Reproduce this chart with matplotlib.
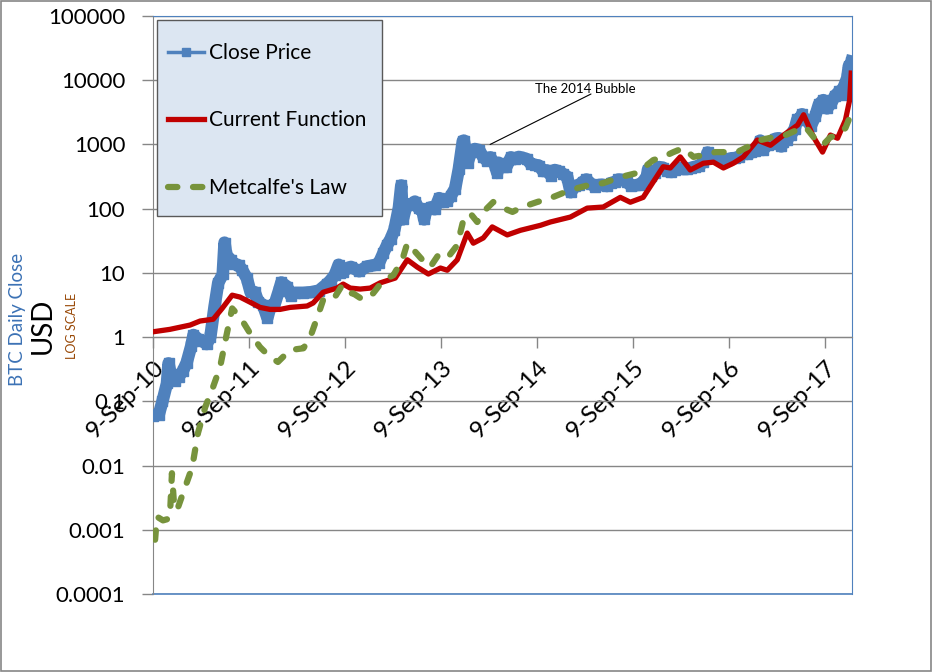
import matplotlib
matplotlib.use("Agg")
import matplotlib.pyplot as plt
import matplotlib.dates as mdates
from matplotlib.lines import Line2D
from matplotlib.patches import Rectangle
import pandas as pd

# BTC daily close (USD)
close_dates = [
    "2010-09-09", "2010-10-01", "2010-10-15", "2010-11-01", "2010-11-07", "2010-11-15",
    "2010-12-01", "2010-12-15", "2011-01-01", "2011-01-15", "2011-02-01", "2011-02-10",
    "2011-03-01", "2011-03-15", "2011-04-01", "2011-04-15", "2011-05-01", "2011-05-15",
    "2011-06-01", "2011-06-08", "2011-06-15", "2011-07-01", "2011-07-15", "2011-08-01",
    "2011-08-15", "2011-09-01", "2011-09-15", "2011-10-01", "2011-10-15", "2011-11-01",
    "2011-11-18", "2011-12-01", "2011-12-15", "2012-01-01", "2012-01-10", "2012-02-01",
    "2012-02-15", "2012-03-01", "2012-04-01", "2012-05-01", "2012-06-01", "2012-07-01",
    "2012-07-15", "2012-08-01", "2012-08-15", "2012-08-19", "2012-09-01", "2012-09-15",
    "2012-10-01", "2012-11-01", "2012-12-01", "2013-01-01", "2013-01-15", "2013-02-01",
    "2013-02-15", "2013-03-01", "2013-03-15", "2013-04-01", "2013-04-10", "2013-04-16",
    "2013-05-01", "2013-05-15", "2013-06-01", "2013-06-15", "2013-07-01", "2013-07-06",
    "2013-07-15", "2013-08-01", "2013-08-15", "2013-09-01", "2013-09-15", "2013-10-01",
    "2013-10-15", "2013-11-01", "2013-11-15", "2013-11-30", "2013-12-04", "2013-12-18",
    "2014-01-01", "2014-01-15", "2014-02-01", "2014-02-15", "2014-03-01", "2014-03-15",
    "2014-04-01", "2014-04-10", "2014-04-15", "2014-05-01", "2014-05-15", "2014-06-01",
    "2014-06-15", "2014-07-01", "2014-07-15", "2014-08-01", "2014-08-15", "2014-09-01",
    "2014-09-15", "2014-10-01", "2014-10-15", "2014-11-01", "2014-11-15", "2014-12-01",
    "2014-12-15", "2015-01-01", "2015-01-14", "2015-02-01", "2015-02-15", "2015-03-01",
    "2015-03-15", "2015-04-01", "2015-04-15", "2015-05-01", "2015-05-15", "2015-06-01",
    "2015-06-15", "2015-07-01", "2015-07-15", "2015-08-01", "2015-08-15", "2015-09-01",
    "2015-09-15", "2015-10-01", "2015-10-15", "2015-11-01", "2015-11-04", "2015-11-15",
    "2015-12-01", "2015-12-15", "2016-01-01", "2016-01-15", "2016-02-01", "2016-02-15",
    "2016-03-01", "2016-03-15", "2016-04-01", "2016-04-15", "2016-05-01", "2016-05-15",
    "2016-06-01", "2016-06-15", "2016-06-18", "2016-07-01", "2016-07-15", "2016-08-01",
    "2016-08-15", "2016-09-01", "2016-09-15", "2016-10-01", "2016-10-15", "2016-11-01",
    "2016-11-15", "2016-12-01", "2016-12-15", "2017-01-01", "2017-01-04", "2017-01-15",
    "2017-02-01", "2017-02-15", "2017-03-01", "2017-03-15", "2017-03-25", "2017-04-01",
    "2017-04-15", "2017-05-01", "2017-05-15", "2017-05-25", "2017-06-01", "2017-06-12",
    "2017-06-15", "2017-07-01", "2017-07-15", "2017-08-01", "2017-08-15", "2017-09-01",
    "2017-09-15", "2017-10-01", "2017-10-15", "2017-11-01", "2017-11-12", "2017-11-15",
    "2017-12-01", "2017-12-07", "2017-12-10", "2017-12-17",
]
close_price = [
    0.06, 0.062, 0.10, 0.19, 0.39, 0.27,
    0.21, 0.24, 0.30, 0.40, 0.72, 1.08,
    0.92, 0.87, 0.78, 1.0, 3.0, 7.0,
    9.5, 29.6, 19, 16, 13.8, 13.1,
    11, 8.2, 5.0, 5.0, 3.5, 3.2,
    2.0, 3.1, 3.2, 5.3, 7.1, 6.1,
    4.4, 4.9, 4.9, 5.0, 5.3, 6.7,
    7.6, 9.4, 13.4, 10, 10.2, 11.8,
    12.4, 10.6, 12.6, 13.3, 14.2, 20.4,
    27, 34, 47, 104, 230, 68,
    117, 114, 129, 101, 89, 68,
    98, 105, 98, 146, 127, 130,
    157, 206, 417, 1130, 1150, 520,
    770, 850, 810, 640, 560, 630,
    480, 360, 520, 450, 450, 630,
    590, 640, 620, 590, 500, 480,
    470, 385, 395, 325, 400, 380,
    350, 315, 180, 225, 235, 260,
    285, 245, 220, 235, 237, 225,
    250, 258, 285, 280, 260, 228,
    230, 237, 255, 325, 405, 320,
    360, 445, 434, 385, 372, 400,
    435, 415, 416, 430, 450, 455,
    535, 690, 750, 675, 665, 605,
    570, 572, 608, 615, 640, 730,
    710, 750, 780, 1000, 1150, 820,
    990, 1010, 1220, 1250, 930, 1090,
    1180, 1420, 1750, 2450, 2400, 2950,
    2450, 2430, 1930, 2730, 4200, 4900,
    3640, 4400, 5700, 6700, 5950, 7300,
    10900, 16700, 15000, 19500,
]

func_dates = [
    "2010-09-09", "2010-11-12", "2011-01-28", "2011-03-07", "2011-04-26", "2011-05-30",
    "2011-07-07", "2011-08-06", "2011-09-13", "2011-10-21", "2011-11-28", "2012-01-05",
    "2012-02-12", "2012-04-17", "2012-05-10", "2012-06-17", "2012-08-09", "2012-09-01",
    "2012-09-28", "2012-11-05", "2012-12-13", "2013-01-20", "2013-03-18", "2013-05-03",
    "2013-06-10", "2013-07-22", "2013-09-06", "2013-10-02", "2013-11-09", "2013-12-17",
    "2014-01-09", "2014-02-16", "2014-03-22", "2014-05-18", "2014-07-07", "2014-09-21",
    "2014-10-29", "2015-01-13", "2015-03-18", "2015-05-18", "2015-07-22", "2015-08-29",
    "2015-10-17", "2015-11-24", "2016-01-01", "2016-01-28", "2016-03-06", "2016-04-13",
    "2016-06-02", "2016-07-10", "2016-08-17", "2016-09-24", "2016-11-01", "2016-12-24",
    "2017-02-12", "2017-04-03", "2017-05-26", "2017-06-18", "2017-07-26", "2017-08-29",
    "2017-09-28", "2017-10-25", "2017-11-24", "2017-12-10", "2017-12-16",
]
func_value = [
    1.21, 1.32, 1.54, 1.78, 1.9, 2.8,
    4.5, 4.2, 3.5, 2.9, 2.7, 2.7,
    2.9, 3.05, 3.4, 5.0, 5.8, 6.7,
    5.8, 5.6, 5.8, 7.0, 8.3, 16,
    12.3, 9.6, 11.9, 11, 16, 41.7,
    29, 35, 52, 39, 46, 55,
    62, 74, 102, 106, 150, 126,
    150, 260, 450, 430, 640, 400,
    510, 530, 430, 510, 640, 1170,
    970, 1400, 2000, 2900, 1300, 760,
    1400, 1250, 2400, 4900, 12900,
]

metcalfe_dates = [
    "2010-09-17", "2010-09-24", "2010-10-17", "2010-11-12", "2010-11-20", "2010-11-28",
    "2010-12-09", "2011-01-01", "2011-02-05", "2011-02-27", "2011-03-26", "2011-04-26",
    "2011-05-22", "2011-06-14", "2011-07-07", "2011-08-06", "2011-09-13", "2011-10-21",
    "2011-11-28", "2011-12-28", "2012-02-12", "2012-04-03", "2012-04-29", "2012-05-26",
    "2012-06-17", "2012-07-25", "2012-08-28", "2012-09-28", "2012-10-09", "2012-11-16",
    "2012-12-24", "2013-02-01", "2013-03-11", "2013-04-14", "2013-05-03", "2013-05-22",
    "2013-06-29", "2013-07-29", "2013-08-29", "2013-10-02", "2013-11-09", "2013-12-02",
    "2013-12-28", "2014-01-24", "2014-02-23", "2014-03-26", "2014-05-03", "2014-06-07",
    "2014-07-14", "2014-09-09", "2014-10-29", "2015-01-13", "2015-03-22", "2015-05-18",
    "2015-07-22", "2015-09-24", "2015-11-24", "2016-01-01", "2016-02-09", "2016-03-18",
    "2016-04-25", "2016-06-02", "2016-07-18", "2016-09-02", "2016-10-09", "2016-11-16",
    "2017-01-05", "2017-02-23", "2017-04-10", "2017-05-26", "2017-06-25", "2017-07-26",
    "2017-08-29", "2017-09-28", "2017-10-25", "2017-11-24", "2017-12-16",
]
metcalfe_value = [
    0.0007, 0.0016, 0.0014, 0.0015, 0.0076, 0.0025,
    0.002, 0.0037, 0.0094, 0.032, 0.08, 0.17,
    0.34, 1.0, 2.8, 2.05, 1.15, 0.7,
    0.49, 0.41, 0.63, 0.67, 1.0, 2.05,
    3.8, 3.8, 6.4, 4.8, 4.8, 3.8,
    4.8, 7.7, 9.2, 16, 29, 24,
    16, 12.3, 19, 17, 27, 66,
    85, 62, 95, 127, 102, 89,
    106, 127, 146, 195, 232, 250,
    310, 360, 570, 640, 760, 880,
    640, 680, 760, 760, 760, 910,
    1170, 1300, 1400, 1690, 1880, 1300,
    970, 1300, 1400, 1800, 3000,
]

year_ticks = ["2010-09-09", "2011-09-09", "2012-09-09", "2013-09-09",
              "2014-09-09", "2015-09-09", "2016-09-09", "2017-09-09"]
y_ticks = [1e-4, 1e-3, 1e-2, 1e-1, 1, 10, 100, 1000, 10000, 100000]
series_names = ["Close Price", "Current Function", "Metcalfe's Law"]

BLUE = "#4F81BD"
RED = "#C00000"
GREEN = "#77933C"
GRID = "#868686"
DASH = (0, (1.5, 2.5))

plt.rcParams["font.family"] = ["Lato", "DejaVu Sans"]

fig = plt.figure(figsize=(9.32, 6.72), dpi=100)
ax = fig.add_axes([153 / 932, 1 - 594 / 672, 699 / 932, 578 / 672])

ax.plot(pd.to_datetime(close_dates), close_price, color=BLUE, lw=9,
        marker="s", ms=7, solid_joinstyle="round", zorder=3)
ax.plot(pd.to_datetime(func_dates), func_value, color=RED, lw=3.8,
        solid_joinstyle="round", zorder=4)
ax.plot(pd.to_datetime(metcalfe_dates), metcalfe_value, color=GREEN, lw=4.5,
        linestyle=DASH, dash_capstyle="round", zorder=5)

ax.set_yscale("log")
ax.set_ylim(1e-4, 1e5)
ax.set_xlim(pd.Timestamp("2010-09-09"), pd.Timestamp("2017-12-19"))

# x axis crosses at 1 (as in Excel); set before styling ticks since it resets them
ax.spines["bottom"].set_position(("data", 1))
ax.spines["bottom"].set_color(GRID)
ax.spines["left"].set_color(GRID)
ax.spines["top"].set_color(BLUE)
ax.spines["right"].set_color(BLUE)
ax.axhline(1e-4, color=BLUE, lw=1.2, clip_on=False, zorder=2)

ax.set_yticks(y_ticks)
ax.set_yticklabels(["{:g}".format(v) for v in y_ticks])
ax.minorticks_off()
ax.set_xticks(pd.to_datetime(year_ticks))
ax.xaxis.set_major_formatter(mdates.DateFormatter("%-d-%b-%y"))

ax.grid(axis="y", color=GRID, lw=1)
ax.tick_params(axis="y", direction="out", length=8, width=1, color=GRID,
               labelsize=16, pad=12)
ax.tick_params(axis="x", direction="out", length=8, width=1, color=GRID,
               labelsize=17.5, pad=6, labelrotation=45)
plt.setp(ax.get_xticklabels(), ha="right", va="top", rotation_mode="anchor")

# axis titles
fig.text(18 / 932, 1 - 319 / 672, "BTC Daily Close", rotation=90, color="#3C72B5",
         fontsize=13.5, ha="center", va="center")
fig.text(43 / 932, 1 - 326 / 672, "USD", rotation=90, color="black",
         fontsize=20, ha="center", va="center")
fig.text(72 / 932, 1 - 326 / 672, "LOG SCALE", rotation=90, color="#984806",
         fontsize=9, ha="center", va="center")

# annotation
ax.annotate("", xy=(pd.Timestamp("2014-03-14"), 1000), xytext=(591, 672 - 94),
            textcoords="figure pixels",
            arrowprops=dict(arrowstyle="-", color="black", lw=0.8, shrinkA=0, shrinkB=0))
fig.text(585 / 932, 1 - 89 / 672, "The 2014 Bubble", fontsize=9.5, ha="center", va="center")

# legend box drawn separately so the padding can match the original
fig.patches.append(Rectangle((157 / 932, 1 - 216 / 672), 225 / 932, 196 / 672,
                             facecolor="#DCE6F2", edgecolor="#595959", lw=1,
                             transform=fig.transFigure, zorder=9))
handles = [
    Line2D([], [], color=BLUE, lw=2.5, marker="s", ms=6),
    Line2D([], [], color=RED, lw=3.8),
    Line2D([], [], color=GREEN, lw=4.5, linestyle=DASH, dash_capstyle="round"),
]
leg = fig.legend(handles, series_names, loc="upper left",
                 bbox_to_anchor=(168 / 932, 1 - 43 / 672), fontsize=15,
                 labelspacing=2.28, borderpad=0, handlelength=1.75,
                 handletextpad=0.2, frameon=False, borderaxespad=0)
leg.set_zorder(10)

fig.patches.append(Rectangle((0.5 / 932, 1 / 672), 930 / 932, 670 / 672, fill=False,
                             ec=GRID, lw=1.2, transform=fig.transFigure))

fig.savefig("out.png", dpi=100)
